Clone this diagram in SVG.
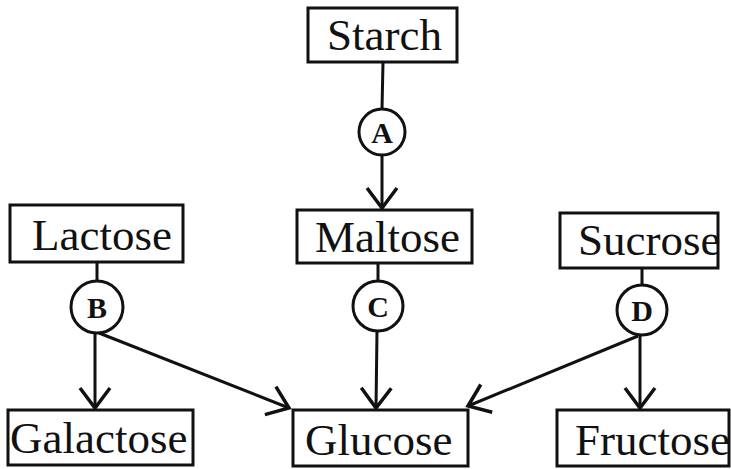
<svg xmlns="http://www.w3.org/2000/svg" width="731" height="469" viewBox="0 0 731 469">
<defs>
<style>
.box{fill:#fff;stroke:#111;stroke-width:3}
.lbl{font-family:"Liberation Serif","Times New Roman",serif;font-size:45px;fill:#111}
.enz{fill:#fff;stroke:#111;stroke-width:3}
.elbl{font-family:"Liberation Serif","Times New Roman",serif;font-size:30px;font-weight:bold;fill:#111;text-anchor:middle}
.ln{stroke:#111;stroke-width:3;fill:none}
</style>
<marker id="arr" markerUnits="userSpaceOnUse" markerWidth="40" markerHeight="40" refX="0" refY="0" orient="auto" overflow="visible" viewBox="-25 -20 30 40">
<path d="M-20,-15 L0,0 L-20,15" fill="none" stroke="#111" stroke-width="3.5"/>
</marker>
</defs>
<rect width="731" height="469" fill="#fff"/>
<g id="connectors">
<line class="ln" x1="383" y1="62" x2="382" y2="109"/>
<line class="ln" x1="382" y1="155" x2="382" y2="208" marker-end="url(#arr)"/>
<line class="ln" x1="378" y1="263" x2="378" y2="281"/>
<line class="ln" x1="377" y1="331" x2="376" y2="408" marker-end="url(#arr)"/>
<line class="ln" x1="97" y1="262" x2="97" y2="281"/>
<line class="ln" x1="95" y1="333" x2="95" y2="408" marker-end="url(#arr)"/>
<line class="ln" x1="99" y1="333" x2="289" y2="408" marker-end="url(#arr)"/>
<line class="ln" x1="642" y1="268" x2="642" y2="285"/>
<line class="ln" x1="640" y1="335" x2="640" y2="408" marker-end="url(#arr)"/>
<line class="ln" x1="638" y1="336" x2="468" y2="406" marker-end="url(#arr)"/>
</g>
<g id="starch"><rect class="box" x="308" y="8" width="149" height="54"/><text class="lbl" x="327" y="50">Starch</text></g>
<g id="enzA"><circle class="enz" cx="382" cy="132" r="23"/><text class="elbl" x="382" y="143">A</text></g>
<g id="maltose"><rect class="box" x="297" y="210" width="175" height="53"/><text class="lbl" x="315" y="252">Maltose</text></g>
<g id="enzC"><circle class="enz" cx="378" cy="306" r="25"/><text class="elbl" x="378" y="317">C</text></g>
<g id="lactose"><rect class="box" x="10" y="205" width="173" height="57"/><text class="lbl" x="32" y="250">Lactose</text></g>
<g id="enzB"><circle class="enz" cx="97" cy="307" r="26"/><text class="elbl" x="97" y="318">B</text></g>
<g id="sucrose"><rect class="box" x="560" y="213" width="158" height="55"/><text class="lbl" x="578" y="255">Sucrose</text></g>
<g id="enzD"><circle class="enz" cx="642" cy="310" r="25"/><text class="elbl" x="642" y="321">D</text></g>
<g id="galactose"><rect class="box" x="8" y="410" width="185" height="55"/><text class="lbl" x="10" y="453">Galactose</text></g>
<g id="glucose"><rect class="box" x="293" y="410" width="175" height="56"/><text class="lbl" x="305" y="455">Glucose</text></g>
<g id="fructose"><rect class="box" x="557" y="410" width="172" height="56"/><text class="lbl" x="575" y="455">Fructose</text></g>
</svg>
